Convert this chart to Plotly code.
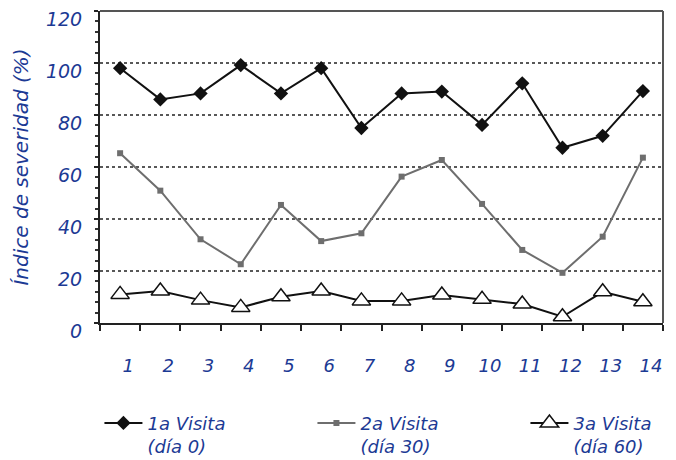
import plotly.graph_objects as go

categories = list(range(1, 15))
tick_labels = [str(c) for c in categories]
visita1 = [98, 86, 88.3, 99.2, 88.3, 98, 75, 88.3, 89, 76.2, 92.2, 67.4, 72, 89.2]
visita2 = [65.3, 50.9, 32.2, 22.6, 45.4, 31.5, 34.5, 56.3, 62.7, 45.8, 28.1, 19.3, 33.2, 63.6]
visita3 = [11.0, 12.3, 8.8, 6.0, 10.1, 12.3, 8.5, 8.5, 10.8, 9.1, 7.3, 2.4, 12.0, 8.2]
names = ["1a Visita<br>(día 0)", "2a Visita<br>(día 30)", "3a Visita<br>(día 60)"]

BLUE = "#1c3a94"
FONT = "DejaVu Sans"

fig = go.Figure()
fig.add_trace(go.Scatter(x=categories, y=visita1, name=names[0], mode="lines+markers",
                         line=dict(color="#111111", width=2),
                         marker=dict(symbol="diamond", size=11, color="#111111")))
fig.add_trace(go.Scatter(x=categories, y=visita2, name=names[1], mode="lines+markers",
                         line=dict(color="#6e6e6e", width=2),
                         marker=dict(symbol="square", size=6, color="#6e6e6e")))
fig.add_trace(go.Scatter(x=categories, y=visita3, name=names[2], mode="lines+markers",
                         line=dict(color="#111111", width=2),
                         marker=dict(symbol="triangle-up", size=16, color="white",
                                     line=dict(color="#111111", width=1.5))))

# top/right frame
fig.add_shape(type="line", xref="paper", yref="paper", x0=0, x1=1, y0=1, y1=1,
              line=dict(color="#555555", width=2))
fig.add_shape(type="line", xref="paper", yref="paper", x0=1, x1=1, y0=0, y1=1,
              line=dict(color="#555555", width=2))

fig.update_layout(
    width=668, height=452,
    margin=dict(l=92, r=13, t=3, b=137, autoexpand=False),
    paper_bgcolor="white", plot_bgcolor="white",
    font=dict(family=FONT, color=BLUE, size=18, style="italic"),
    showlegend=True,
    legend=dict(orientation="h", x=-0.001, xanchor="left", y=-0.262, yanchor="top",
                entrywidth=160, entrywidthmode="pixels", valign="top", itemwidth=38,
                font=dict(family=FONT, color=BLUE, size=18, style="italic"),
                tracegroupgap=0),
    xaxis=dict(range=[0.5, 14.5], tickvals=categories, ticktext=tick_labels,
               ticks="", showgrid=False, zeroline=False, automargin=False,
               showline=True, linecolor="#222222", linewidth=2,
               ticklabelstandoff=25, ticklabelshift=8,
               tickfont=dict(family=FONT, color=BLUE, size=18, style="italic"),
               minor=dict(tickvals=[c + 0.5 for c in [0] + categories], ticks="outside",
                          ticklen=6, tickcolor="#222222", tickwidth=1.5, showgrid=False)),
    yaxis=dict(range=[0, 120], tickvals=[0, 20, 40, 60, 80, 100, 120],
               ticks="outside", ticklen=4, tickcolor="#222222", tickwidth=1.5,
               showline=True, linecolor="#222222", linewidth=2,
               showgrid=False, zeroline=False, automargin=False,
               ticklabelstandoff=8, ticklabelshift=8, ticklabeloverflow="allow",
               tickfont=dict(family=FONT, color=BLUE, size=19, style="italic"),
               title=dict(text="Índice de severidad (%)", standoff=12,
                          font=dict(family=FONT, color=BLUE, size=20, style="italic")),
               minor=dict(dtick=4, ticks="outside", ticklen=3, tickcolor="#333333",
                          tickwidth=1.5, showgrid=False)),
)

# dotted gridlines 20..100
for v in [20, 40, 60, 80, 100]:
    fig.add_shape(type="line", xref="paper", yref="y", x0=0, x1=1, y0=v, y1=v,
                  line=dict(color="#222222", width=1.5, dash="dot"), layer="below")

fig.write_html("out.html")
